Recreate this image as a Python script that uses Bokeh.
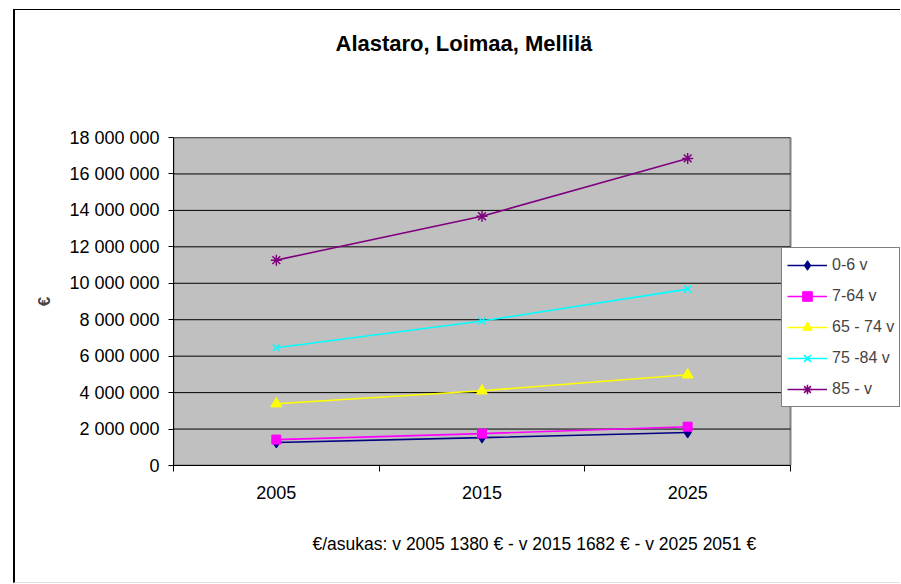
from bokeh.plotting import figure
from bokeh.models import (FixedTicker, Range1d, Legend, LegendItem, Title,
                          InlineStyleSheet)
from bokeh.embed import file_html
from bokeh.resources import INLINE

# ---- data ----
years = [2005, 2015, 2025]
category_edges = [2000, 2010, 2020, 2030]
series_names = ["0-6 v", "7-64 v", "65 - 74 v", "75 -84 v", "85 - v"]
v0_6 = [1260000, 1530000, 1810000]
v7_64 = [1420000, 1750000, 2130000]
v65_74 = [3390000, 4100000, 4980000]
v75_84 = [6460000, 7930000, 9680000]
v85 = [11270000, 13680000, 16850000]
y_ticks = [0, 2000000, 4000000, 6000000, 8000000, 10000000, 12000000,
           14000000, 16000000, 18000000]
title_text = "Alastaro, Loimaa, Mellilä"
footer_text = "€/asukas: v 2005 1380 € - v 2015 1682 € - v 2025 2051 €"
y_label = "€"

colors = ["#000080", "#FF00FF", "#FFFF00", "#00FFFF", "#800080"]
markers = ["diamond", "square", "triangle", "x", "asterisk"]
sizes = [11, 9, 11, 10, 11]
series = [v0_6, v7_64, v65_74, v75_84, v85]

FONT = "Liberation Sans"

# layout (pixels)
W, H = 900, 583
LEFT, TOP, BOTTOM = 173, 137, 117
PLOT_W = 617                     # grey plot area width
FRAME_W = W - LEFT               # frame extends to the right edge (legend room)
x0, x1 = category_edges[0], category_edges[-1]
x_end = x1 + (x1 - x0) * (FRAME_W - PLOT_W) / PLOT_W

p = figure(width=W, height=H, output_backend="svg", toolbar_location=None,
           x_range=Range1d(x0, x_end),
           y_range=Range1d(y_ticks[0], y_ticks[-1]),
           min_border_left=LEFT, min_border_right=0,
           min_border_top=TOP, min_border_bottom=BOTTOM)
p.background_fill_color = "white"
p.border_fill_color = "white"
p.outline_line_color = None

# grey plot area with its frame, and horizontal gridlines
p.quad(left=x0, right=x1, bottom=y_ticks[0], top=y_ticks[-1],
       fill_color="#C0C0C0", line_color="#808080", line_width=2)
p.segment(x0=[x0] * len(y_ticks), x1=[x1] * len(y_ticks), y0=y_ticks,
          y1=y_ticks, line_color="black", line_width=1)

# axes
p.xaxis.bounds = (x0, x1)
p.xaxis.ticker = FixedTicker(ticks=years, minor_ticks=category_edges)
p.xaxis.major_tick_out = 0
p.xaxis.major_tick_in = 0
p.xaxis.minor_tick_out = 6
p.xaxis.minor_tick_in = 0
p.xaxis.minor_tick_line_color = "black"
p.xaxis.major_label_standoff = 14
p.yaxis.ticker = FixedTicker(ticks=y_ticks)
p.yaxis.major_label_overrides = {v: f"{v:,}".replace(",", " ") for v in y_ticks}
p.yaxis.major_tick_out = 5
p.yaxis.major_tick_in = 0
p.yaxis.minor_tick_line_color = None
p.yaxis.major_label_standoff = 9
p.yaxis.axis_label = y_label
p.yaxis.axis_label_text_font = FONT
p.yaxis.axis_label_text_font_style = "bold"
p.yaxis.axis_label_text_font_size = "17px"
p.yaxis.axis_label_standoff = 12
for ax in (p.xaxis, p.yaxis):
    ax.axis_line_color = "black"
    ax.major_tick_line_color = "black"
    ax.major_label_text_font = FONT
    ax.major_label_text_font_size = "18px"
    ax.major_label_text_color = "black"

p.xgrid.grid_line_color = None
p.ygrid.grid_line_color = None

items = []
for name, vals, c, m, s in zip(series_names, series, colors, markers, sizes):
    r1 = p.line(years, vals, line_color=c, line_width=1.6)
    r2 = p.scatter(years, vals, marker=m, size=s, fill_color=c, line_color=c,
                   line_width=1.5 if m in ("x", "asterisk") else 1)
    items.append(LegendItem(label=name, renderers=[r1, r2]))

legend = Legend(items=items, location=(608, 58))
legend.border_line_color = "black"
legend.border_line_width = 1
legend.background_fill_color = "white"
legend.background_fill_alpha = 1
legend.label_text_font = FONT
legend.label_text_font_size = "16px"
legend.glyph_width = 40
legend.glyph_height = 24
legend.label_height = 24
legend.spacing = 7
legend.padding = 5
legend.margin = 0
legend.label_standoff = 5
p.add_layout(legend)

# spacer between plot area and the title
p.add_layout(Title(text=" ", text_font_size="1px", standoff=74), "above")
p.title = Title(text=title_text, align="left", offset=162, standoff=10,
                text_font=FONT, text_font_size="22px", text_font_style="bold",
                text_color="black")
p.add_layout(Title(text=footer_text, align="left", offset=139, standoff=60,
                   text_font=FONT, text_font_size="17.5px",
                   text_font_style="normal", text_color="black"), "below")

# outer chart border (left and top edges)
p.stylesheets = [InlineStyleSheet(css=""":host::after {
  content: ""; position: absolute; left: 13px; top: 9px; right: 0px; bottom: 0px;
  border-left: 2px solid #000; border-top: 1px solid #000;
  border-bottom: 1px solid #e0e0e0; pointer-events: none; }""")]

open("out.html", "w").write(file_html(p, INLINE))
